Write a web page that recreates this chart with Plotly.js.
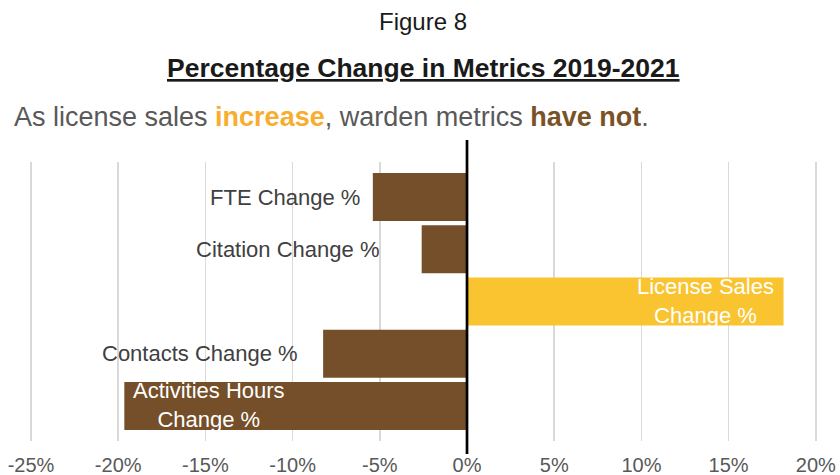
<!DOCTYPE html>
<html>
<head>
<meta charset="utf-8">
<script src="https://cdn.plot.ly/plotly-3.0.1.min.js"></script>
<style>
  html, body { margin: 0; padding: 0; background: #ffffff; }
  #chart { width: 840px; height: 475px; }
</style>
</head>
<body>
<div id="chart"></div>
<script>
// ---- Data ----
var categories = ["FTE Change %", "Citation Change %", "License Sales Change %", "Contacts Change %", "Activities Hours Change %"];
var labels = ["FTE Change %", "Citation Change %", "License Sales<br>Change %", "Contacts Change %", "Activities Hours<br>Change %"];
var values = [-5.4, -2.6, 18.15, -8.25, -19.65];
var tickVals = [-25, -20, -15, -10, -5, 0, 5, 10, 15, 20];
var tickText = ["-25%", "-20%", "-15%", "-10%", "-5%", "0%", "5%", "10%", "15%", "20%"];

// ---- Label styling (placement relative to bar end, in px) ----
var labelInside = [false, false, true, false, true];
var labelGap = [13, 43, 11, 25, 10];

var BROWN = "#754F29";
var YELLOW = "#F9C430";
var colors = values.map(function (v) { return v >= 0 ? YELLOW : BROWN; });

var trace = {
  type: "bar",
  orientation: "h",
  y: categories,
  x: values,
  marker: { color: colors, line: { width: 0 } },
  hoverinfo: "none",
  showlegend: false
};

var FONT = "Liberation Sans, Arial, sans-serif";

var annotations = [];
for (var i = 0; i < categories.length; i++) {
  var v = values[i];
  var ann = {
    xref: "x", yref: "y", x: v, y: categories[i],
    text: labels[i], showarrow: false, align: "center",
    yanchor: "middle",
    font: { family: FONT, size: 22, color: labelInside[i] ? "#ffffff" : "#404040" }
  };
  var g = labelGap[i];
  if (labelInside[i]) {
    ann.yshift = 0.5;
    if (v < 0) { ann.xanchor = "left"; ann.xshift = g - 3; }
    else { ann.xanchor = "right"; ann.xshift = -(g - 3); }
  } else {
    if (v < 0) { ann.xanchor = "right"; ann.xshift = -(g - 2); }
    else { ann.xanchor = "left"; ann.xshift = g - 2; }
  }
  annotations.push(ann);
}

annotations.push({
  xref: "paper", yref: "paper", x: 0.4994, y: 1.5018, xanchor: "center", yanchor: "middle",
  text: "Figure 8", showarrow: false,
  font: { family: FONT, size: 24, color: "#1a1a1a" }
});
annotations.push({
  xref: "paper", yref: "paper", x: 0.4994, y: 1.338, xanchor: "center", yanchor: "middle",
  text: "<b><u>Percentage Change in Metrics 2019-2021</u></b>", showarrow: false,
  font: { family: FONT, size: 26.5, color: "#1a1a1a" }
});
annotations.push({
  xref: "paper", yref: "paper", x: -0.0189, y: 1.1613, xanchor: "left", yanchor: "middle",
  text: "As license sales <b><span style=\"color:#F7AE30\">increase</span></b>, warden metrics <b><span style=\"color:#7A5228\">have not</span></b>.",
  showarrow: false,
  font: { family: FONT, size: 27, color: "#595959" }
});

var layout = {
  width: 840, height: 475,
  margin: { l: 27, r: 20, t: 162, b: 34, pad: 0 },
  paper_bgcolor: "#ffffff", plot_bgcolor: "#ffffff",
  bargap: 0.085,
  xaxis: {
    range: [-25.23, 20.24],
    tickmode: "array", tickvals: tickVals, ticktext: tickText,
    showgrid: true, gridcolor: "#d9d9d9", gridwidth: 1.5,
    zeroline: false, showline: false, ticks: "",
    ticklabelstandoff: 10,
    tickfont: { family: FONT, size: 20, color: "#595959" },
    fixedrange: true
  },
  yaxis: {
    type: "category",
    categoryorder: "array", categoryarray: categories,
    range: [4.67, -0.67],
    showticklabels: false, showgrid: false, zeroline: false, showline: false, ticks: "",
    fixedrange: true
  },
  shapes: [{
    type: "line", xref: "x", yref: "paper",
    x0: 0, x1: 0, y0: -0.0466, y1: 1.0789,
    line: { color: "#000000", width: 2.7 }
  }],
  annotations: annotations
};

Plotly.newPlot("chart", [trace], layout, { staticPlot: true, displayModeBar: false });
</script>
</body>
</html>
